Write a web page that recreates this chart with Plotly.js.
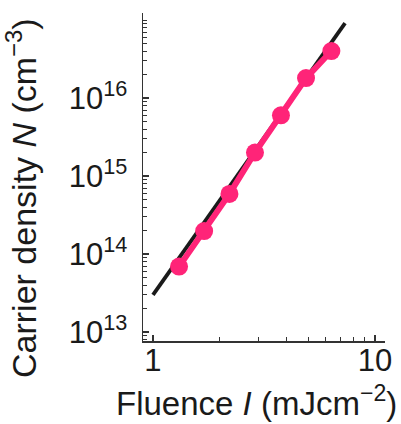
<!DOCTYPE html>
<html>
<head>
<script src="https://cdn.plot.ly/plotly-3.0.1.min.js"></script>
<style>html,body{margin:0;padding:0;background:#fff;}#chart{width:401px;height:424px;}</style>
</head>
<body>
<div id="chart"></div>
<script>
// Measured data (fluence in mJ/cm^2, carrier density in cm^-3)
const fluence = [1.31, 1.70, 2.21, 2.88, 3.77, 4.89, 6.36];
const density = [6.9e13, 1.97e14, 5.9e14, 2.0e15, 6.0e15, 1.8e16, 4.0e16];
// Fit line endpoints
const fitFluence = [1.0, 7.33];
const fitDensity = [3.0e13, 9.1e16];
// Tick labels
const xTickVals = [1, 10];
const xTickText = ['1', '10'];
const yTickVals = [1e13, 1e14, 1e15, 1e16];
const yTickText = ['10<sup>13</sup>', '10<sup>14</sup>', '10<sup>15</sup>', '10<sup>16</sup>'];
const xTitle = 'Fluence <i>I</i> (mJcm<sup>−2</sup>)';
const yTitle = 'Carrier density <i>N</i> (cm<sup>−3</sup>)';

const pink = '#FF2478';
const font = 'Liberation Sans, Arial, sans-serif';
const txt = '#1a1a1a';

const traces = [
  {x: fitFluence, y: fitDensity, mode: 'lines', line: {color: '#1a1a1a', width: 3.8}, hoverinfo: 'skip'},
  {x: fluence, y: density, mode: 'lines+markers', line: {color: pink, width: 6},
   marker: {color: pink, size: 18}}
];

const axisCommon = {
  type: 'log', showgrid: false, zeroline: false, showline: true,
  linecolor: '#333', linewidth: 1.5, ticks: 'inside', ticklen: 6, tickwidth: 1.2, tickcolor: '#333',
  tickmode: 'array',
  minor: {dtick: 'D1', ticks: 'inside', ticklen: 4, tickwidth: 1, tickcolor: '#333', showgrid: false},
  tickfont: {family: font, size: 31, color: txt}
};

const layout = {
  width: 401, height: 424,
  margin: {l: 143, r: 16, t: 13, b: 83},
  paper_bgcolor: '#fff', plot_bgcolor: '#fff',
  showlegend: false,
  xaxis: Object.assign({}, axisCommon, {
    range: [-0.045, 1.045], tickvals: xTickVals, ticktext: xTickText,
    ticklabelstandoff: -9
  }),
  yaxis: Object.assign({}, axisCommon, {
    range: [12.885, 17.09], tickvals: yTickVals, ticktext: yTickText,
    ticklabelstandoff: 8
  }),
  annotations: [
    {text: xTitle, xref: 'paper', yref: 'paper', x: 0.47, y: -0.183, xanchor: 'center', yanchor: 'middle',
     showarrow: false, font: {family: font, size: 33, color: txt}},
    {text: yTitle, xref: 'paper', yref: 'paper', x: -0.50, y: 0.436, xanchor: 'center', yanchor: 'middle',
     textangle: -90, showarrow: false, font: {family: font, size: 34, color: txt}}
  ]
};

Plotly.newPlot('chart', traces, layout, {displayModeBar: false, staticPlot: true});
</script>
</body>
</html>
